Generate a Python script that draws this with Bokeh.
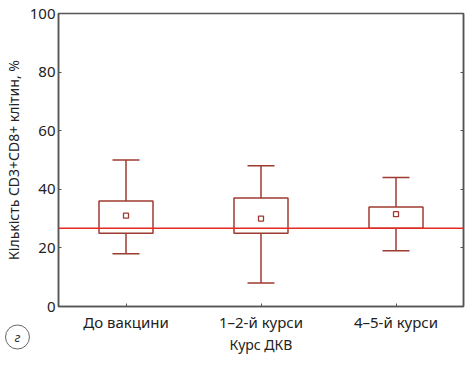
from bokeh.plotting import figure
from bokeh.models import Span, LinearAxis, Title, FixedTicker, ColumnDataSource
from bokeh.transform import dodge
from bokeh.embed import file_html
from bokeh.resources import INLINE

categories = ["До вакцини", "1–2-й курси", "4–5-й курси"]
whisker_low = [18, 8, 19]
q1 = [25, 25, 26.7]
q3 = [36, 37, 34]
whisker_high = [50, 48, 44]
means = [31, 30, 31.5]
reference_level = 26.7
y_ticks = [0, 20, 40, 60, 80, 100]

FONT = "Noto Sans"
BOX_COLOR = "#9e3b31"
REF_COLOR = "#e62a22"
AXIS_COLOR = "#555555"

src = ColumnDataSource(dict(cat=categories, lo=whisker_low, q1=q1, q3=q3, hi=whisker_high, mean=means))

p = figure(x_range=categories, y_range=(0, 100), width=465, height=358,
           output_backend="svg", toolbar_location=None,
           min_border_left=10, min_border_right=2, min_border_top=13, min_border_bottom=52)
p.x_range.range_padding = 0
p.grid.visible = False
p.outline_line_color = AXIS_COLOR
p.outline_line_width = 1.5

# whiskers
p.segment(x0="cat", x1="cat", y0="lo", y1="q1", source=src, line_color=BOX_COLOR, line_width=1.5)
p.segment(x0="cat", x1="cat", y0="q3", y1="hi", source=src, line_color=BOX_COLOR, line_width=1.5)
# caps
p.segment(x0=dodge("cat", -0.1, range=p.x_range), x1=dodge("cat", 0.1, range=p.x_range),
          y0="lo", y1="lo", source=src, line_color=BOX_COLOR, line_width=1.5)
p.segment(x0=dodge("cat", -0.1, range=p.x_range), x1=dodge("cat", 0.1, range=p.x_range),
          y0="hi", y1="hi", source=src, line_color=BOX_COLOR, line_width=1.5)
# boxes
p.vbar(x="cat", width=0.4, bottom="q1", top="q3", source=src,
       fill_color="white", line_color=BOX_COLOR, line_width=1.5)
# means
p.scatter(x="cat", y="mean", source=src, marker="square", size=5,
          fill_color="white", line_color=BOX_COLOR, line_width=1.3)

p.add_layout(Span(location=reference_level, dimension="width", line_color=REF_COLOR, line_width=1.4))

p.yaxis.ticker = FixedTicker(ticks=y_ticks)
for ax in (p.xaxis[0], p.yaxis[0]):
    ax.axis_line_color = AXIS_COLOR
    ax.axis_line_width = 1.5
    ax.major_tick_line_color = AXIS_COLOR
    ax.major_tick_in = 3
    ax.major_tick_out = 0
    ax.minor_tick_line_color = None
    ax.major_label_text_font = FONT
    ax.major_label_text_font_size = "15px"
    ax.major_label_text_color = "#222222"
    ax.axis_label_text_font = FONT
    ax.axis_label_text_font_size = "14px"
    ax.axis_label_text_font_style = "normal"
    ax.axis_label_text_color = "#222222"
p.yaxis.axis_label = "Кількість CD3+CD8+ клітин, %"
p.xaxis.axis_label = "Курс ДКВ"
p.yaxis.major_label_standoff = 3
p.yaxis.axis_label_standoff = 4
p.xaxis.major_label_standoff = 5
p.xaxis.axis_label_standoff = 0

right = LinearAxis(ticker=FixedTicker(ticks=[20, 40, 60, 80]),
                   major_label_overrides={20: "", 40: "", 60: "", 80: ""},
                   major_tick_in=3, major_tick_out=0, minor_tick_line_color=None,
                   axis_line_color=AXIS_COLOR, axis_line_width=1.5,
                   major_tick_line_color=AXIS_COLOR, major_label_standoff=0)
p.add_layout(right, "right")

# panel letter in a circle, below-left of the plot frame
p.add_layout(Title(text="г", align="left", vertical_align="top", offset=-53, standoff=-63,
                   text_font=FONT, text_font_style="italic", text_font_size="13px",
                   text_color="#333333",
                   border_line_color="#666666", border_line_width=1, border_radius=12,
                   padding=dict(left=9, right=9, top=3, bottom=3)), "below")

open("out.html", "w").write(file_html(p, INLINE))
